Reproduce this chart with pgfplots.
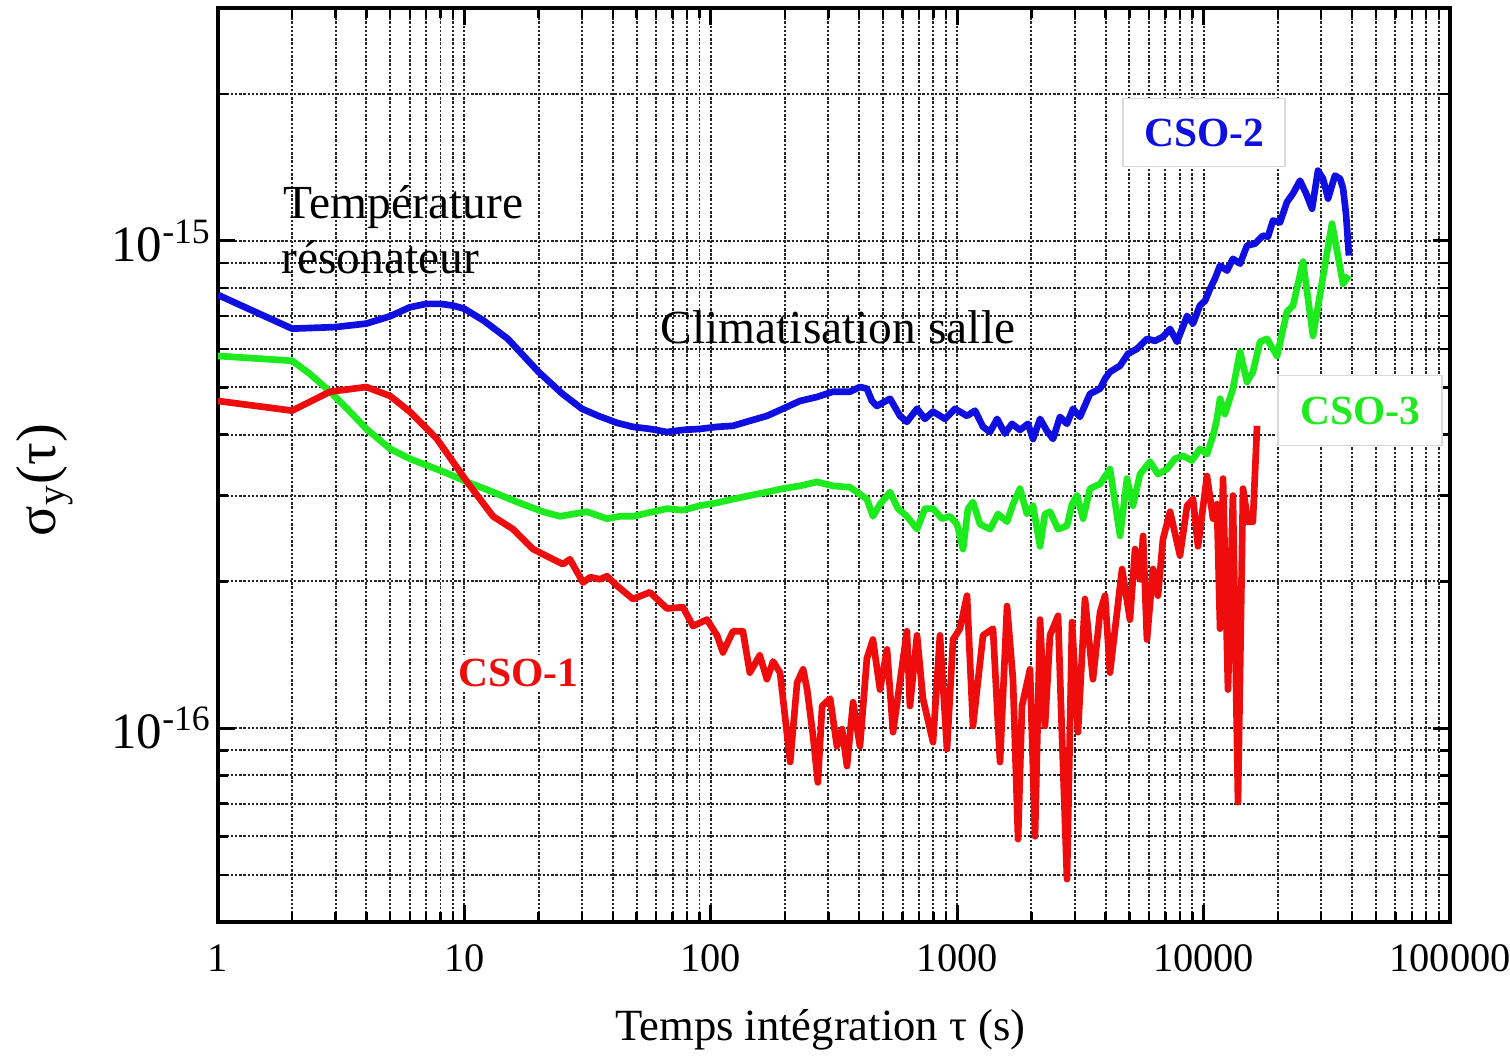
\documentclass[border=0pt]{standalone}
\usepackage{pgfplots}
\pgfplotsset{compat=1.18}
\usepackage{fontspec}
\setmainfont{Liberation Serif}

\definecolor{cblue}{RGB}{15,15,225}
\definecolor{cgreen}{RGB}{30,235,30}
\definecolor{cred}{RGB}{238,12,12}

\begin{document}
\begin{tikzpicture}
\begin{axis}[
  name=ax,
  width=123.2mm, height=91.4mm, scale only axis,
  xmode=log, ymode=log,
  xmin=1, xmax=100000, ymin=4e-17, ymax=3e-15,
  /pgf/number format/assume math mode=true,
  xtick={1,10,100,1000,10000,100000},
  xticklabels={1,10,100,1000,10000,100000},
  minor xtick={2,3,4,5,6,7,8,9,20,30,40,50,60,70,80,90,200,300,400,500,600,700,800,900,
    2000,3000,4000,5000,6000,7000,8000,9000,20000,30000,40000,50000,60000,70000,80000,90000},
  ytick={1e-16,1e-15},
  yticklabels={10\textsuperscript{-16},10\textsuperscript{-15}},
  minor ytick={5e-17,6e-17,7e-17,8e-17,9e-17,2e-16,3e-16,4e-16,5e-16,6e-16,7e-16,8e-16,9e-16,2e-15},
  grid=both,
  grid style={dash pattern=on 0.7pt off 0.5pt, black!85, line width=0.55pt},
  axis line style={line width=1.1pt},
  major tick length=1.7mm, minor tick length=1mm,
  major tick style={black, line width=0.9pt},
  minor tick style={black, line width=0.7pt},
  xticklabel style={font=\fontsize{11.5}{13}\selectfont, yshift=-1mm},
  yticklabel style={font=\fontsize{14.5}{16}\selectfont, xshift=0.6mm},
  xlabel={Temps intégration τ (s)},
  xlabel style={font=\fontsize{12.7}{15}\selectfont, at={(axis description cs:0.489,-0.118)}, anchor=center},
  ylabel={σ\textsubscript{y}(τ)},
  ylabel style={font=\fontsize{16}{18}\selectfont, at={(axis description cs:-0.1404,0.4836)}, anchor=center},
  every axis plot/.append style={line width=1.9pt, line join=round, no markers},
]
% CSO-2
\addplot[cblue] coordinates {
(1,7.74e-16)(2,6.6e-16)(3,6.65e-16)(4,6.76e-16)(5,7.0e-16)(6,7.3e-16)(7,7.42e-16)(8,7.42e-16)
(9,7.36e-16)(10,7.25e-16)(12,6.85e-16)(15,6.29e-16)(20,5.38e-16)(25,4.85e-16)(30,4.52e-16)
(35,4.37e-16)(41.6,4.23e-16)(48.3,4.15e-16)(56.6,4.11e-16)(66.4,4.05e-16)(77.1,4.09e-16)
(90.4,4.11e-16)(106,4.15e-16)(123,4.17e-16)(144,4.27e-16)(169,4.37e-16)(196,4.52e-16)
(230,4.69e-16)(270,4.78e-16)(313,4.90e-16)(367,4.90e-16)(403,5.01e-16)(430,4.97e-16)
(451,4.69e-16)(472,4.58e-16)(534,4.74e-16)(586,4.37e-16)(625,4.25e-16)(687,4.52e-16)
(740,4.31e-16)(798,4.46e-16)(892,4.31e-16)(980,4.52e-16)(1096,4.37e-16)(1181,4.48e-16)
(1273,4.15e-16)(1359,4.05e-16)(1452,4.31e-16)(1563,4.02e-16)(1668,4.21e-16)(1798,4.09e-16)
(1938,4.21e-16)(2031,3.92e-16)(2169,4.31e-16)(2313,4.07e-16)(2448,3.92e-16)(2612,4.35e-16)
(2790,4.21e-16)(2951,4.52e-16)(3148,4.35e-16)(3459,4.85e-16)(3800,4.97e-16)(3981,5.21e-16)
(4169,5.38e-16)(4581,5.54e-16)(4933,5.86e-16)(5370,6.0e-16)(5890,6.29e-16)(6353,6.23e-16)
(6840,6.35e-16)(7310,6.59e-16)(7800,6.20e-16)(8570,7.01e-16)(9060,6.76e-16)(9660,7.36e-16)
(10140,7.53e-16)(10620,7.97e-16)(11120,8.36e-16)(11660,8.89e-16)(12450,8.68e-16)
(13150,9.18e-16)(14060,8.97e-16)(15000,9.77e-16)(16180,9.86e-16)(17420,1.024e-15)
(18250,1.019e-15)(19130,1.10e-15)(20420,1.09e-15)(21790,1.20e-15)(23070,1.25e-15)
(24610,1.328e-15)(26060,1.25e-15)(27550,1.163e-15)(29120,1.392e-15)(30530,1.34e-15)
(31990,1.22e-15)(34120,1.36e-15)(35800,1.34e-15)(36810,1.28e-15)(37840,1.136e-15)
(38900,9.32e-16)
};
% CSO-3
\addplot[cgreen] coordinates {
(1,5.80e-16)(2,5.67e-16)(2.36,5.33e-16)(2.85,4.90e-16)(3.43,4.46e-16)(4.0,4.11e-16)
(5,3.74e-16)(6,3.57e-16)(8.19,3.36e-16)(10.25,3.20e-16)(13.06,3.05e-16)(16.35,2.91e-16)
(20.84,2.78e-16)(24.4,2.72e-16)(31.4,2.78e-16)(37.9,2.69e-16)(42.8,2.72e-16)(48.3,2.72e-16)
(56.6,2.77e-16)(66.4,2.82e-16)(77.1,2.80e-16)(90.4,2.86e-16)(106,2.90e-16)(123,2.95e-16)
(144,3.0e-16)(169,3.05e-16)(196,3.10e-16)(230,3.14e-16)(270,3.20e-16)(313,3.14e-16)
(367,3.12e-16)(403,3.02e-16)(430,2.95e-16)(455,2.72e-16)(486,2.88e-16)(534,3.05e-16)
(575,2.82e-16)(625,2.72e-16)(687,2.56e-16)(740,2.82e-16)(798,2.82e-16)(868,2.69e-16)
(935,2.72e-16)(998,2.62e-16)(1056,2.33e-16)(1106,2.82e-16)(1159,2.91e-16)(1238,2.62e-16)
(1359,2.56e-16)(1465,2.75e-16)(1593,2.65e-16)(1684,2.88e-16)(1798,3.10e-16)(1920,2.75e-16)
(2031,2.86e-16)(2169,2.36e-16)(2271,2.75e-16)(2380,2.78e-16)(2566,2.56e-16)(2790,2.60e-16)
(2924,2.88e-16)(3063,3.0e-16)(3243,2.69e-16)(3459,3.10e-16)(3800,3.17e-16)(4169,3.40e-16)
(4581,2.48e-16)(4887,3.25e-16)(5168,2.86e-16)(5521,3.32e-16)(6058,3.52e-16)(6530,3.32e-16)
(7100,3.40e-16)(7650,3.57e-16)(8250,3.62e-16)(8970,3.54e-16)(9660,3.74e-16)(10320,3.65e-16)
(10920,3.98e-16)(11330,4.31e-16)(11660,4.74e-16)(12210,4.41e-16)(13150,4.97e-16)
(14060,5.92e-16)(15000,5.13e-16)(15850,5.38e-16)(16940,6.20e-16)(18080,6.29e-16)
(19860,5.80e-16)(21790,7.15e-16)(23070,7.36e-16)(25320,9.06e-16)(27800,6.38e-16)
(33190,1.084e-15)(36810,8.16e-16)(38900,8.48e-16)
};
% CSO-1
\addplot[cred] coordinates {
(1,4.69e-16)(2,4.48e-16)(2.85,4.90e-16)(4.0,5.01e-16)(5,4.80e-16)(6,4.46e-16)(7.74,3.92e-16)
(10.25,3.20e-16)(13.06,2.72e-16)(15.75,2.56e-16)(18.98,2.33e-16)(22.9,2.22e-16)(25.1,2.17e-16)
(26.8,2.22e-16)(30.3,1.99e-16)(32.4,2.04e-16)(35.5,2.02e-16)(37.9,2.05e-16)(41.6,1.96e-16)
(48.3,1.84e-16)(56.6,1.90e-16)(66.4,1.76e-16)(77.1,1.77e-16)(84.7,1.62e-16)(96.5,1.67e-16)
(106,1.55e-16)(112,1.43e-16)(123,1.58e-16)(135,1.58e-16)(144,1.30e-16)(158,1.41e-16)
(169,1.26e-16)(179,1.37e-16)(191,1.30e-16)(210,8.52e-17)(224,1.24e-16)(237,1.32e-16)
(246,1.20e-16)(260,9.63e-17)(272,7.74e-17)(283,1.11e-16)(305,1.15e-16)(325,9.18e-17)
(341,9.95e-17)(357,8.36e-17)(378,1.13e-16)(403,9.18e-17)(430,1.39e-16)(455,1.52e-16)
(486,1.20e-16)(519,1.45e-16)(549,9.81e-17)(625,1.58e-16)(643,1.11e-16)(687,1.55e-16)
(726,1.15e-16)(798,9.36e-17)(851,1.55e-16)(909,9.06e-17)(962,1.52e-16)(1026,1.60e-16)
(1096,1.87e-16)(1159,1.01e-16)(1273,1.55e-16)(1397,1.60e-16)(1492,8.52e-17)(1593,1.78e-16)
(1684,1.26e-16)(1766,5.92e-17)(1832,1.11e-16)(1975,1.32e-16)(2069,6.00e-17)(2169,1.67e-16)
(2271,1.01e-16)(2380,1.55e-16)(2566,1.70e-16)(2663,9.63e-17)(2790,4.90e-17)(2924,1.65e-16)
(3091,9.81e-17)(3301,1.84e-16)(3556,1.26e-16)(3800,1.73e-16)(3981,1.87e-16)(4169,1.30e-16)
(4667,2.12e-16)(5025,1.67e-16)(5270,2.33e-16)(5521,2.02e-16)(5680,2.48e-16)(5890,1.52e-16)
(6230,2.12e-16)(6530,1.87e-16)(6840,2.44e-16)(7310,2.78e-16)(8020,2.26e-16)(8570,2.86e-16)
(9060,2.95e-16)(9490,2.36e-16)(10320,3.29e-16)(10920,2.69e-16)(11330,2.88e-16)
(11660,1.60e-16)(11990,3.25e-16)(12560,1.20e-16)(13150,3.0e-16)(13790,7.05e-17)
(14450,3.10e-16)(15140,2.65e-16)(15850,2.65e-16)(16480,4.17e-16)
};
% annotations
\node[anchor=base west, font=\fontsize{13.5}{16}\selectfont, inner sep=0pt] at (axis cs:1.84,1.11e-15) {Température};
\node[anchor=base west, font=\fontsize{13.5}{16}\selectfont, inner sep=0pt] at (axis cs:1.80,8.55e-16) {résonateur};
\node[anchor=base west, font=\fontsize{13.5}{16}\selectfont, inner sep=0pt] at (axis cs:62.2,6.14e-16) {Climatisation salle};
\node[fill=white, draw=black!15, line width=0.4pt, minimum width=16.2mm, minimum height=6.8mm,
  text=cblue, font=\fontsize{11.8}{14}\selectfont\bfseries] at (axis cs:10040,1.667e-15) {CSO-2};
\node[fill=white, draw=black!15, line width=0.4pt, minimum width=16.4mm, minimum height=7mm,
  text=cgreen, font=\fontsize{11.8}{14}\selectfont\bfseries] at (axis cs:43120,4.48e-16) {CSO-3};
\node[fill=white, inner sep=1pt, text=cred, font=\fontsize{11.8}{14}\selectfont\bfseries] at (axis cs:16.5,1.30e-16) {CSO-1};
\end{axis}
\pgfresetboundingbox
\path[use as bounding box] (ax.south west) ++(-21.8mm,-13.4mm) rectangle ([xshift=6mm,yshift=0.8mm]ax.north east);
\end{tikzpicture}
\end{document}
